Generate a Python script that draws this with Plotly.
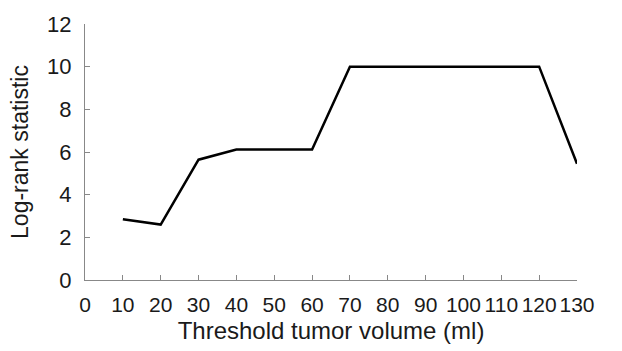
import plotly.graph_objects as go

threshold_ml = [10, 20, 30, 40, 50, 60, 70, 80, 90, 100, 110, 120, 130]
log_rank = [2.85, 2.6, 5.64, 6.12, 6.12, 6.12, 10.0, 10.0, 10.0, 10.0, 10.0, 10.0, 5.45]

x_ticks = list(range(0, 131, 10))
y_ticks = list(range(0, 13, 2))

fig = go.Figure()
fig.add_trace(go.Scatter(x=threshold_ml, y=log_rank, mode="lines",
                         line=dict(color="black", width=2.5), showlegend=False,
                         hoverinfo="skip"))

font = dict(family="Liberation Sans, Arial, sans-serif", size=22, color="#1a1a1a")
fig.update_layout(
    width=622, height=351,
    margin=dict(l=85, r=45, t=16, b=71),
    paper_bgcolor="white", plot_bgcolor="white",
    font=font,
    xaxis=dict(range=[0, 130], tickvals=x_ticks, ticktext=[str(v) for v in x_ticks],
               tickangle=0,
               showgrid=False, zeroline=False, showline=True, linecolor="#888", linewidth=1,
               ticks="inside", ticklen=5, tickcolor="#888", ticklabelstandoff=6,
               title=dict(text="Threshold tumor volume (ml)", standoff=6, font=dict(size=24)),
               tickfont=dict(size=21)),
    yaxis=dict(range=[0, 12], tickvals=y_ticks,
               showgrid=False, zeroline=False, showline=True, linecolor="#888", linewidth=1,
               ticks="inside", ticklen=5, tickcolor="#888", ticklabelstandoff=8,
               title=dict(text="Log-rank statistic", standoff=12, font=dict(size=23)),
               tickfont=dict(size=22)),
)
fig.write_html("out.html", config={"displayModeBar": False},
               post_script="document.body.style.margin='0';document.body.style.overflow='hidden';")
